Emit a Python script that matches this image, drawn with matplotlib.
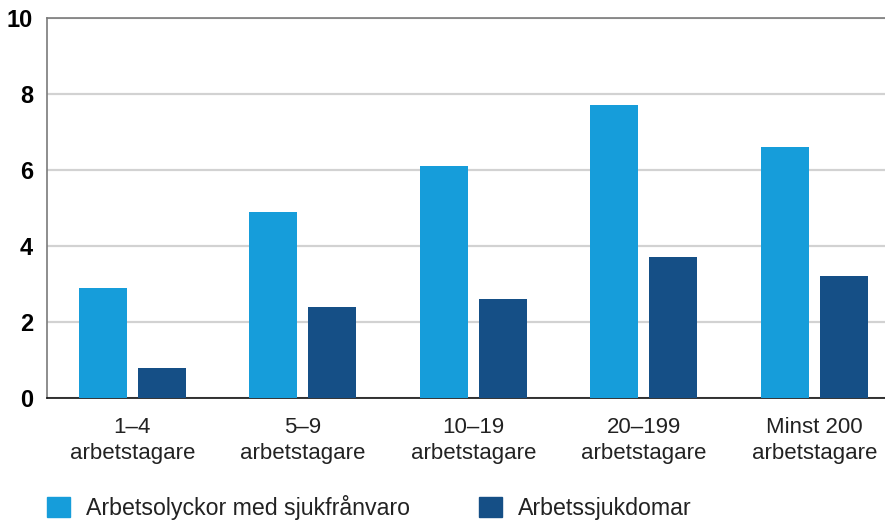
import matplotlib
matplotlib.use("agg")
import matplotlib.pyplot as plt
import numpy as np
from matplotlib.patches import Patch

categories = ["1\u20134\narbetstagare", "5\u20139\narbetstagare",
              "10\u201319\narbetstagare", "20\u2013199\narbetstagare",
              "Minst 200\narbetstagare"]
olyckor = [2.9, 4.9, 6.1, 7.7, 6.6]
sjukdomar = [0.8, 2.4, 2.6, 3.7, 3.2]
series_labels = ["Arbetsolyckor med sjukfrånvaro", "Arbetssjukdomar"]
y_ticks = [0, 2, 4, 6, 8, 10]

light = "#169dda"
dark = "#154f86"
plt.rcParams["font.family"] = ["Liberation Sans", "DejaVu Sans"]

fig = plt.figure(figsize=(8.85, 5.22), dpi=100)
ax = fig.add_axes([47 / 885, 124 / 522, 1 - 47 / 885, 380 / 522])

x = np.arange(len(categories))
w = 0.2815
off = 0.173
ax.bar(x - off, olyckor, w, color=light, zorder=3)
ax.bar(x + off, sjukdomar, w, color=dark, zorder=3)

ax.set_xlim(-0.5, 4.415)
ax.set_ylim(0, 10)
ax.set_yticks(y_ticks)
ax.set_yticklabels([str(t) for t in y_ticks], fontsize=17, fontweight="bold")
ax.set_xticks(x)
ax.set_xticklabels(categories, fontsize=16, color="#222222", linespacing=1.3)
ax.tick_params(axis="both", length=0)
ax.tick_params(axis="y", pad=10)
ax.tick_params(axis="x", pad=14)

ax.yaxis.grid(True, color="#d2d2d2", lw=1.6, zorder=0)
ax.spines["right"].set_visible(False)
for s in ["left", "top"]:
    ax.spines[s].set_color("#7a7a7a")
    ax.spines[s].set_linewidth(1.2)
ax.spines["bottom"].set_color("#111111")
ax.spines["bottom"].set_linewidth(1.2)

handles = [Patch(color=light), Patch(color=dark)]
fig.legend(handles, series_labels, loc="lower left", bbox_to_anchor=(47 / 885, 2 / 522),
           ncol=2, frameon=False, fontsize=16.7, handlelength=1.0, handleheight=0.95,
           handletextpad=0.7, columnspacing=2.95, labelcolor="#222222",
           borderpad=0, borderaxespad=0)

fig.savefig("out.png", dpi=100)
